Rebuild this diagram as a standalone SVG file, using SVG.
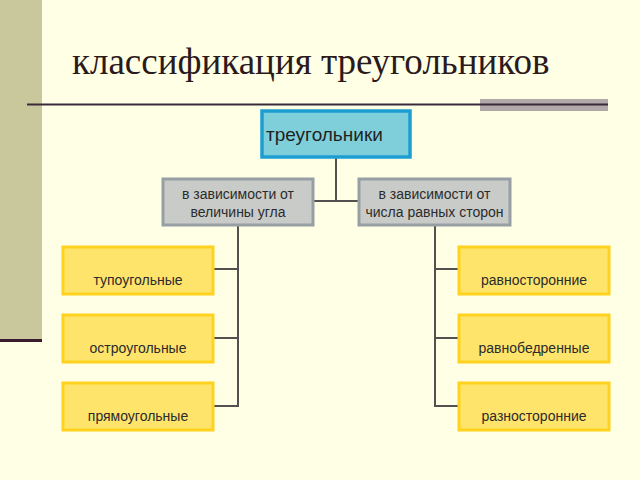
<svg xmlns="http://www.w3.org/2000/svg" width="640" height="480" viewBox="0 0 640 480">
<style>
.t{font-family:"Liberation Sans",Arial,sans-serif;fill:#2b2b2b;text-anchor:middle}
.leaf{fill:#FFE46C;stroke:#FFD21E;stroke-width:3}
.mid{fill:#C9CBC9;stroke:#989FA4;stroke-width:3}
.c{fill:none;stroke:#555050;stroke-width:2}
</style>
<rect width="640" height="480" fill="#FFFFE6"/>
<rect x="0" y="0" width="42" height="340" fill="#C8C89C"/>
<rect x="0" y="339" width="42" height="3" fill="#3A1A2C"/>
<rect x="480" y="99" width="128" height="12" fill="#B1A9A9"/>
<line x1="27" y1="104.5" x2="608" y2="104.5" stroke="#3a2a3a" stroke-width="2"/>
<text x="72" y="74" font-family="'Liberation Serif','Times New Roman',serif" font-size="37" fill="#2a1a1c">классификация треугольников</text>
<g id="connectors" class="c">
<path d="M336 157V201M313 201H359"/>
<path d="M238 225V407M213 269H238M213 338H238M213 406H238"/>
<path d="M435 225V407M435 269H459M435 338H459M435 406H459"/>
</g>
<g id="root"><rect x="262" y="111" width="148" height="46" fill="#7FCFDA" stroke="#1C9ED2" stroke-width="3.5"/><text x="266" y="141" font-family="'Liberation Sans',Arial,sans-serif" font-size="19" fill="#1f1f1f">треугольники</text></g>
<g id="angle"><rect class="mid" x="163" y="179" width="150" height="46"/><text class="t" font-size="14" x="238" y="199">в зависимости от</text><text class="t" font-size="14" x="238" y="217">величины угла</text></g>
<g id="sides"><rect class="mid" x="359" y="179" width="151" height="46"/><text class="t" font-size="14" x="434.5" y="199">в зависимости от</text><text class="t" font-size="14" x="434.5" y="217">числа равных сторон</text></g>
<g id="obtuse"><rect class="leaf" x="63" y="247" width="150" height="47"/><text class="t" font-size="14" x="138" y="285">тупоугольные</text></g>
<g id="acute"><rect class="leaf" x="63" y="315" width="150" height="47"/><text class="t" font-size="14" x="138" y="353">остроугольные</text></g>
<g id="right"><rect class="leaf" x="63" y="383" width="150" height="47"/><text class="t" font-size="14" x="138" y="421">прямоугольные</text></g>
<g id="equilateral"><rect class="leaf" x="459" y="247" width="150" height="47"/><text class="t" font-size="14" x="534" y="285">равносторонние</text></g>
<g id="isosceles"><rect class="leaf" x="459" y="315" width="150" height="47"/><text class="t" font-size="14" x="534" y="353">равнобедренные</text></g>
<g id="scalene"><rect class="leaf" x="459" y="383" width="150" height="47"/><text class="t" font-size="14" x="534" y="421">разносторонние</text></g>
</svg>
